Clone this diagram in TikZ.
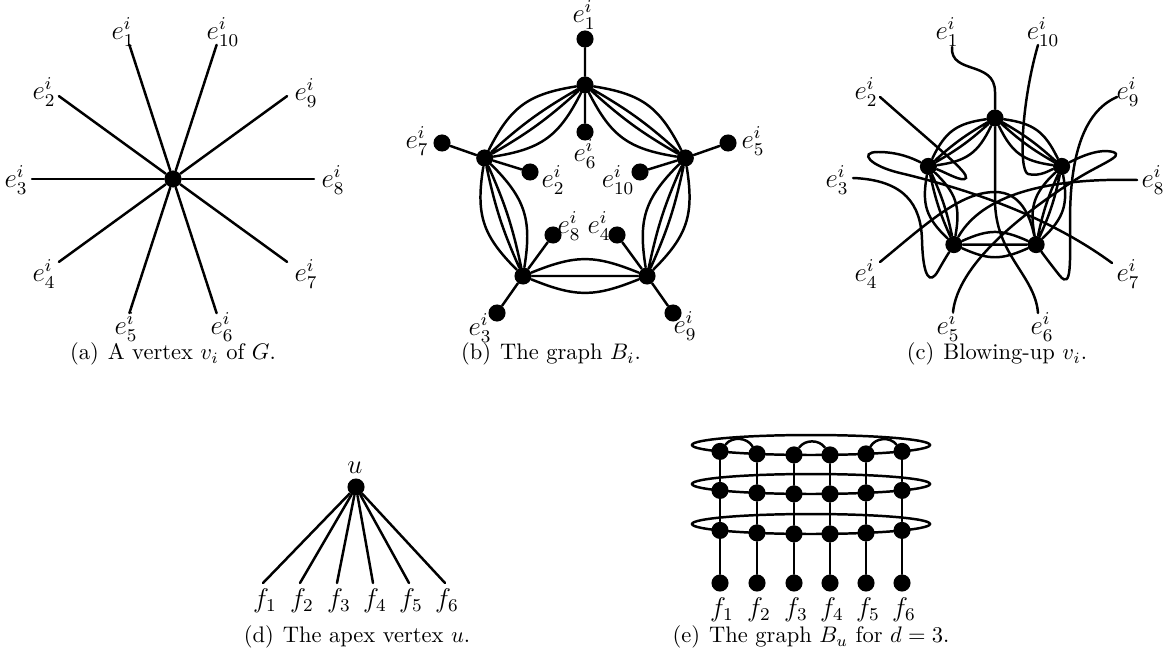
\documentclass[tikz,border=0pt]{standalone}
\usetikzlibrary{calc}
\tikzset{
 dot/.style={circle,fill=black,draw=none,inner sep=0pt,minimum size=7.6pt},
 ed/.style={line width=1.1pt,line cap=round},
 lbl/.style={inner sep=0pt,font=\large},
 captext/.style={inner sep=0pt}
}
\newcommand\fourway[3]{\draw[ed] (#1) to[bend left=#3,looseness=1.15] (#2) (#1) to[bend left=6] (#2) (#1) to[bend right=6] (#2) (#1) to[bend right=#3,looseness=1.15] (#2);}
\newcommand\threeway[3]{\draw[ed] (#1) to[bend left=#3,looseness=1.15] (#2) (#1) -- (#2) (#1) to[bend right=#3,looseness=1.15] (#2);}
\begin{document}
\begin{tikzpicture}[x=0.4444pt,y=-0.4444pt]
\useasboundingbox (0,0) rectangle (1167,651);
% ---------------- (a)
\node[dot] (A) at (173,179) {};
\coordinate (ae1) at (129.4,44.9);
\coordinate (ae10) at (216.6,44.9);
\coordinate (ae2) at (58.9,96.1);
\coordinate (ae9) at (287.1,96.1);
\coordinate (ae3) at (32,179);
\coordinate (ae8) at (314,179);
\coordinate (ae4) at (58.9,261.9);
\coordinate (ae7) at (287.1,261.9);
\coordinate (ae5) at (129.4,313.1);
\coordinate (ae6) at (216.6,313.1);
\foreach \k in {1,...,10} \draw[ed] (A) -- (ae\k);
\node[lbl] (la1) at (123,32) {$e_{1}^{i}$};
\node[lbl] (la10) at (223,32) {$e_{10}^{i}$};
\node[lbl] (la2) at (44,92) {$e_{2}^{i}$};
\node[lbl] (la9) at (306,93) {$e_{9}^{i}$};
\node[lbl] (la3) at (16,180) {$e_{3}^{i}$};
\node[lbl] (la8) at (333,180) {$e_{8}^{i}$};
\node[lbl] (la4) at (44,274) {$e_{4}^{i}$};
\node[lbl] (la7) at (306,274) {$e_{7}^{i}$};
\node[lbl] (la5) at (126,327) {$e_{5}^{i}$};
\node[lbl] (la6) at (222,327) {$e_{6}^{i}$};
\node[captext] (capa) at (173,354) {(a)\hspace{4pt}A vertex $v_i$ of $G$.};
% ---------------- (b)
\node[dot] (bT) at (585,85) {};
\node[dot] (bL) at (484.7,158) {};
\node[dot] (bR) at (685.3,158) {};
\node[dot] (bBL) at (523,276) {};
\node[dot] (bBR) at (647,276) {};
\node[dot] (bp1) at (585,39) {};
\node[dot] (bp6) at (585,132) {};
\node[dot] (bp7) at (442,143) {};
\node[dot] (bp2) at (530,172) {};
\node[dot] (bp5) at (728,143) {};
\node[dot] (bp10) at (640,172) {};
\node[dot] (bp8) at (553,235) {};
\node[dot] (bp4) at (617,235) {};
\node[dot] (bp3) at (497,313) {};
\node[dot] (bp9) at (673,313) {};
\draw[ed] (bT) -- (bp1) (bT) -- (bp6) (bL) -- (bp7) (bL) -- (bp2) (bR) -- (bp5) (bR) -- (bp10)
 (bBL) -- (bp8) (bBL) -- (bp3) (bBR) -- (bp4) (bBR) -- (bp9);
\fourway{bT}{bL}{27}
\fourway{bL}{bBL}{27}
\fourway{bR}{bT}{27}
\fourway{bBR}{bR}{27}
\threeway{bBL}{bBR}{22}
\node[lbl] (lb1) at (584,15) {$e_{1}^{i}$};
\node[lbl] (lb6) at (585,154) {$e_{6}^{i}$};
\node[lbl] (lb7) at (417,141) {$e_{7}^{i}$};
\node[lbl] (lb2) at (553,180) {$e_{2}^{i}$};
\node[lbl] (lb5) at (753,141) {$e_{5}^{i}$};
\node[lbl] (lb10) at (618,180) {$e_{10}^{i}$};
\node[lbl] (lb8) at (569,226) {$e_{8}^{i}$};
\node[lbl] (lb4) at (599,226) {$e_{4}^{i}$};
\node[lbl] (lb3) at (480,328) {$e_{3}^{i}$};
\node[lbl] (lb9) at (685,326) {$e_{9}^{i}$};
\node[captext] (capb) at (551,354) {(b)\hspace{4pt}The graph $B_i$.};
% ---------------- (c)
\node[dot] (cT) at (995,118) {};
\node[dot] (cL) at (928.4,166.4) {};
\node[dot] (cR) at (1061.6,166.4) {};
\node[dot] (cBL) at (953.9,244.6) {};
\node[dot] (cBR) at (1036.1,244.6) {};
\fourway{cT}{cL}{28}
\fourway{cL}{cBL}{28}
\fourway{cR}{cT}{28}
\fourway{cBR}{cR}{28}
\threeway{cBL}{cBR}{24}
\coordinate (ce1) at (952,47);
\coordinate (ce10) at (1038,45);
\coordinate (ce2) at (880,97);
\coordinate (ce9) at (1117,97);
\coordinate (ce3) at (853,178);
\coordinate (ce8) at (1137,180);
\coordinate (ce4) at (880,262);
\coordinate (ce7) at (1112,263);
\coordinate (ce5) at (953,312);
\coordinate (ce6) at (1038,313);
\draw[ed] (ce1) .. controls (950,75) and (995,60) .. (995,92) -- (cT);
\draw[ed] (cT) -- (995,200) .. controls (995,255) and (1035,275) .. (ce6);
\draw[ed] (ce10) .. controls (1022,100) and (1018,170) .. (1028,174) .. controls (1040,177) and (1050,170) .. (cR);
\draw[ed] (ce2) .. controls (940,150) and (968,172) .. (966,178) .. controls (963,183) and (945,172) .. (cL);
\draw[ed] (ce7) .. controls (1040,210) and (950,185) .. (900,173) .. controls (870,166) and (858,152) .. (878,152) .. controls (898,152) and (912,158) .. (cL);
\draw[ed] (ce5) .. controls (958,265) and (1020,215) .. (1075,180) .. controls (1100,164) and (1125,156) .. (1113,152) .. controls (1098,148) and (1078,158) .. (cR);
\draw[ed] (ce9) .. controls (1082,112) and (1070,160) .. (1070,220) .. controls (1070,262) and (1072,290) .. (1060,276) .. controls (1052,266) and (1046,258) .. (cBR);
\draw[ed] (ce3) .. controls (905,180) and (921,205) .. (922,240) .. controls (923,278) and (930,285) .. (938,271) .. controls (943,262) and (948,254) .. (cBL);
\draw[ed] (ce8) .. controls (1060,178) and (985,190) .. (cBL);
\draw[ed] (ce4) .. controls (925,225) and (960,192) .. (995,192) .. controls (1020,192) and (1030,215) .. (cBR);
\node[lbl] (lc1) at (947,32) {$e_{1}^{i}$};
\node[lbl] (lc10) at (1043,32) {$e_{10}^{i}$};
\node[lbl] (lc2) at (866,92) {$e_{2}^{i}$};
\node[lbl] (lc9) at (1128,92) {$e_{9}^{i}$};
\node[lbl] (lc3) at (837,180) {$e_{3}^{i}$};
\node[lbl] (lc8) at (1153,180) {$e_{8}^{i}$};
\node[lbl] (lc4) at (866,274) {$e_{4}^{i}$};
\node[lbl] (lc7) at (1128,274) {$e_{7}^{i}$};
\node[lbl] (lc5) at (948,327) {$e_{5}^{i}$};
\node[lbl] (lc6) at (1042,327) {$e_{6}^{i}$};
\node[captext] (capc) at (997,354) {(c)\hspace{4pt}Blowing-up $v_i$.};
% ---------------- (d)
\node[dot] (U) at (356,487) {};
\node[lbl] (lu) at (355,468) {$u$};
\foreach \k/\x in {1/263,2/300,3/337,4/373,5/409,6/445}{
  \coordinate (df\k) at (\x,583);
  \draw[ed] (U) -- (df\k);
  \node[lbl] (ldf\k) at (\x+2,601) {$f_{\k}$};
}
\node[captext] (capd) at (357,637) {(d)\hspace{4pt}The apex vertex $u$.};
% ---------------- (e)
\draw[ed] (811,445) ellipse [x radius=52.89pt, y radius=4.44pt];
\draw[ed] (811,484) ellipse [x radius=52.89pt, y radius=4.44pt];
\draw[ed] (811,524) ellipse [x radius=52.89pt, y radius=4.44pt];
\foreach \c/\x/\o in {1/720/6.4,2/757/8.9,3/794/9.9,4/830/9.9,5/866/8.9,6/902/6.4}{
  \node[dot] (ra\c) at (\x,445+\o) {};
  \node[dot] (rb\c) at (\x,484+\o) {};
  \node[dot] (rc\c) at (\x,524+\o) {};
  \node[dot] (bt\c) at (\x,583) {};
  \draw[ed] (ra\c) -- (rb\c) -- (rc\c) -- (bt\c);
  \node[lbl] (lef\c) at (\x+2,610) {$f_{\c}$};
}
\draw[ed] (ra1) to[bend left=55] (ra2) (ra3) to[bend left=55] (ra4) (ra5) to[bend left=55] (ra6);
\node[captext] (cape) at (811,637) {(e)\hspace{4pt}The graph $B_u$ for $d=3$.};
\end{tikzpicture}
\end{document}
